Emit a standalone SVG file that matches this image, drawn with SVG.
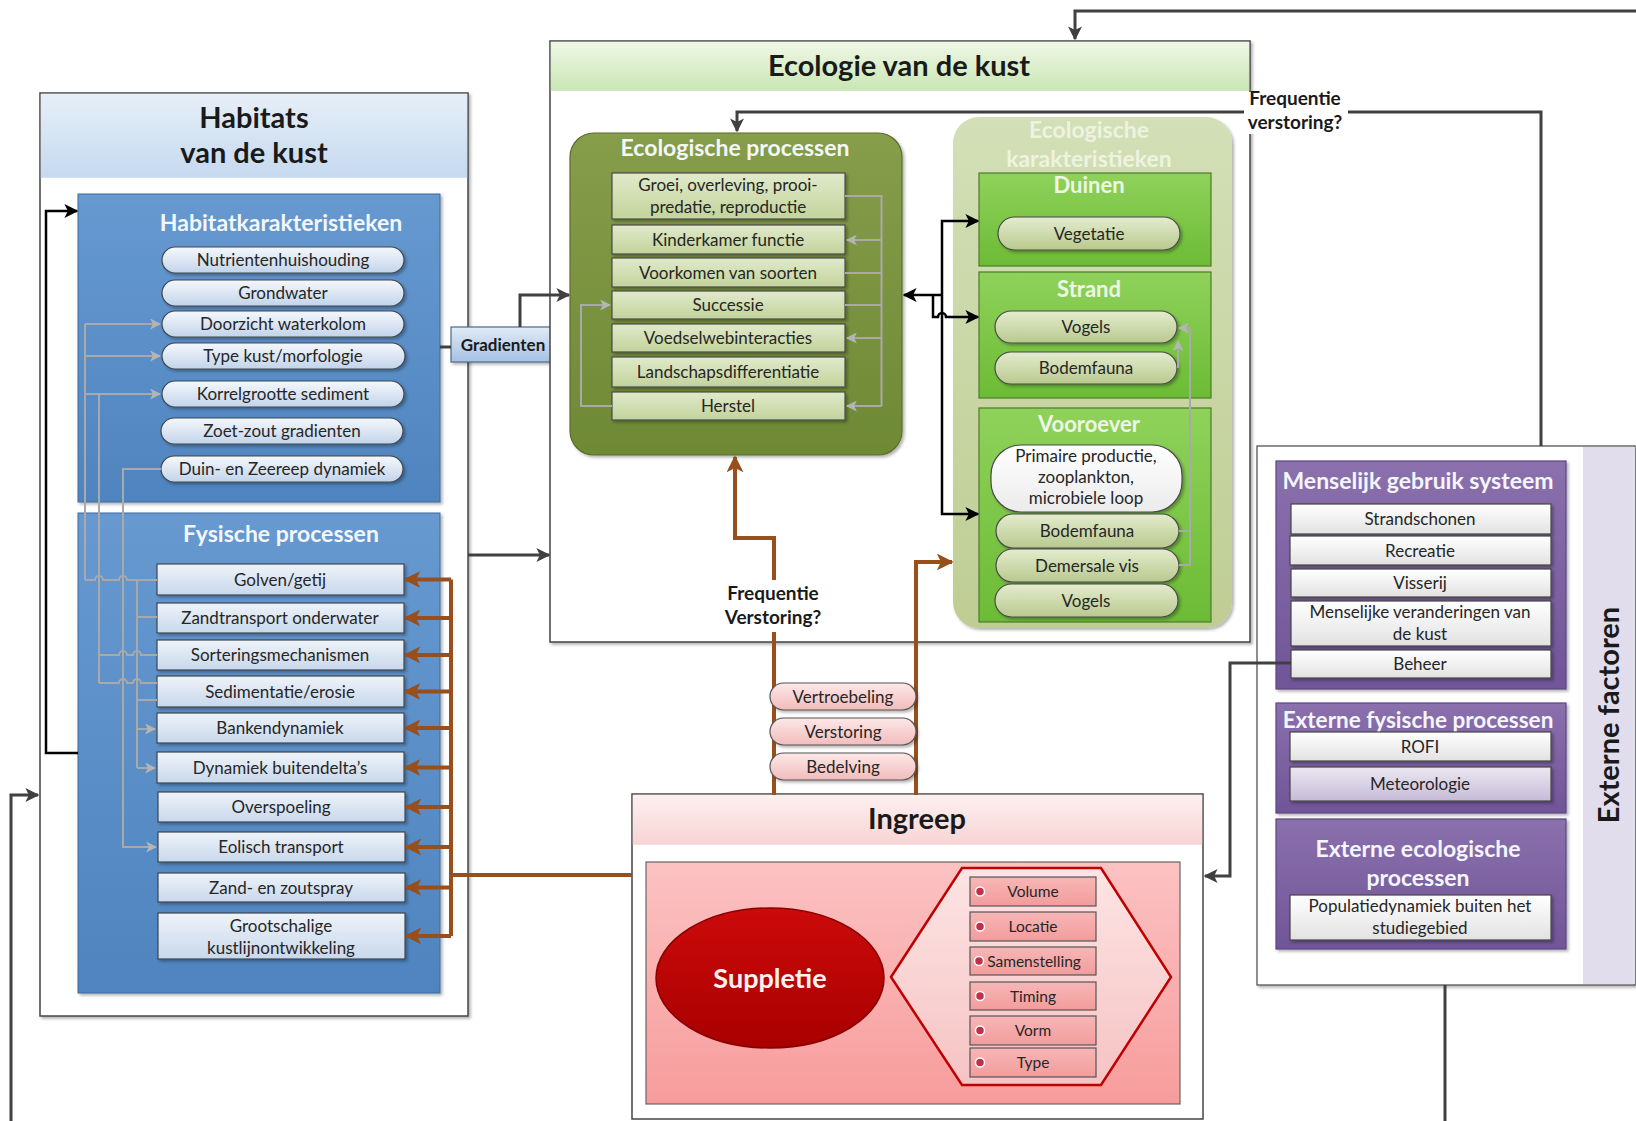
<svg xmlns="http://www.w3.org/2000/svg" width="1636" height="1121" viewBox="0 0 1636 1121">
<defs>
<style>
text{font-family:Lato,'Liberation Sans',sans-serif}
.it{font-size:17px;fill:#262626;text-anchor:middle}
.ie{font-size:17px;fill:#262626;text-anchor:middle}
.sm{font-size:15.5px;fill:#262626;text-anchor:middle}
.hd{font-weight:bold;text-anchor:middle;fill:#1a1a1a}
.wt{font-weight:bold;text-anchor:middle;fill:#f3f6fa}
.pill{fill:url(#gPill);stroke:#3c4650;stroke-width:1.2}
.fys{fill:url(#gFys);stroke:#3c4650;stroke-width:1.2}
.oi{fill:url(#gOliveItem);stroke:#4a4a4a;stroke-width:1.2}
.gp{fill:url(#gGreenPill);stroke:#4a4a4a;stroke-width:1.2}
.gb{fill:url(#gGreen);stroke:#4d7a2a;stroke-width:1.2}
.pu{fill:url(#gPurple);stroke:#5b4680;stroke-width:1.2}
.wi{fill:url(#gWhiteItem);stroke:#444;stroke-width:1.2}
.pi{fill:url(#gPinkItem);stroke:#555;stroke-width:1.2}
.pp{fill:url(#gPinkPill);stroke:#555;stroke-width:1.2}
.dk{fill:none;stroke:#404040;stroke-width:3}
.bk{fill:none;stroke:#000;stroke-width:2.5}
.br{fill:none;stroke:#984f1c;stroke-width:4}
.gr{fill:none;stroke:#a9a9a9;stroke-width:2}
.lbl{font-weight:bold;font-size:19px;fill:#1a1a1a;text-anchor:middle}
</style>
<filter id="sh" x="-10%" y="-10%" width="130%" height="130%"><feDropShadow dx="2" dy="2" stdDeviation="1.5" flood-color="#000" flood-opacity="0.3"/></filter>
<linearGradient id="gHabHead" x1="0" y1="0" x2="0" y2="1"><stop offset="0" stop-color="#e6eff8"/><stop offset="1" stop-color="#c6d9ef"/></linearGradient>
<linearGradient id="gBlue" x1="0" y1="0" x2="0" y2="1"><stop offset="0" stop-color="#6799d0"/><stop offset="1" stop-color="#4f84bf"/></linearGradient>
<linearGradient id="gPill" x1="0" y1="0" x2="0" y2="1"><stop offset="0" stop-color="#f5f8fc"/><stop offset="1" stop-color="#c2d4ea"/></linearGradient>
<linearGradient id="gFys" x1="0" y1="0" x2="0" y2="1"><stop offset="0" stop-color="#eef3f9"/><stop offset="1" stop-color="#c8d8ec"/></linearGradient>
<linearGradient id="gGrad" x1="0" y1="0" x2="0" y2="1"><stop offset="0" stop-color="#e0ebf7"/><stop offset="1" stop-color="#a6c1e3"/></linearGradient>
<linearGradient id="gEcoHead" x1="0" y1="0" x2="0" y2="1"><stop offset="0" stop-color="#eff8e7"/><stop offset="1" stop-color="#c9e6b3"/></linearGradient>
<linearGradient id="gOlive" x1="0" y1="0" x2="0" y2="1"><stop offset="0" stop-color="#869d4b"/><stop offset="1" stop-color="#6e8935"/></linearGradient>
<linearGradient id="gOliveItem" x1="0" y1="0" x2="0" y2="1"><stop offset="0" stop-color="#e1eacb"/><stop offset="1" stop-color="#c2d39b"/></linearGradient>
<linearGradient id="gEcoKar" x1="0" y1="0" x2="0" y2="1"><stop offset="0" stop-color="#d3dfb6"/><stop offset="1" stop-color="#bfcd94"/></linearGradient>
<linearGradient id="gGreen" x1="0" y1="0" x2="0" y2="1"><stop offset="0" stop-color="#8fd25b"/><stop offset="1" stop-color="#6cbb35"/></linearGradient>
<linearGradient id="gGreenPill" x1="0" y1="0" x2="0" y2="1"><stop offset="0" stop-color="#e4ecce"/><stop offset="1" stop-color="#b8c98e"/></linearGradient>
<linearGradient id="gWhitePill" x1="0" y1="0" x2="0" y2="1"><stop offset="0" stop-color="#ffffff"/><stop offset="1" stop-color="#ebebeb"/></linearGradient>
<linearGradient id="gIngHead" x1="0" y1="0" x2="0" y2="1"><stop offset="0" stop-color="#fdf0f0"/><stop offset="1" stop-color="#f8d4d4"/></linearGradient>
<linearGradient id="gPink" x1="0" y1="0" x2="0" y2="1"><stop offset="0" stop-color="#fcc2c2"/><stop offset="1" stop-color="#f79c9c"/></linearGradient>
<linearGradient id="gRed" x1="0" y1="0" x2="0" y2="1"><stop offset="0" stop-color="#cc0a0a"/><stop offset="1" stop-color="#a80000"/></linearGradient>
<linearGradient id="gHex" x1="0" y1="0" x2="0" y2="1"><stop offset="0" stop-color="#fde4e4"/><stop offset="1" stop-color="#f6c3c3"/></linearGradient>
<linearGradient id="gPinkItem" x1="0" y1="0" x2="0" y2="1"><stop offset="0" stop-color="#f8b6b6"/><stop offset="1" stop-color="#f29c9c"/></linearGradient>
<linearGradient id="gPinkPill" x1="0" y1="0" x2="0" y2="1"><stop offset="0" stop-color="#fde8e8"/><stop offset="1" stop-color="#f2bcbc"/></linearGradient>
<linearGradient id="gPurple" x1="0" y1="0" x2="0" y2="1"><stop offset="0" stop-color="#8b70ad"/><stop offset="1" stop-color="#705598"/></linearGradient>
<linearGradient id="gWhiteItem" x1="0" y1="0" x2="0" y2="1"><stop offset="0" stop-color="#ffffff"/><stop offset="1" stop-color="#e2e2e2"/></linearGradient>
<linearGradient id="gLav" x1="0" y1="0" x2="0" y2="1"><stop offset="0" stop-color="#ece7f2"/><stop offset="1" stop-color="#c6bbd8"/></linearGradient>
<marker id="aDk" markerUnits="userSpaceOnUse" markerWidth="14" markerHeight="14" viewBox="0 0 10 10" refX="9" refY="5" orient="auto"><path d="M0,0 L10,5 L0,10 L2.5,5 z" fill="#404040"/></marker>
<marker id="aBk" markerUnits="userSpaceOnUse" markerWidth="14" markerHeight="14" viewBox="0 0 10 10" refX="9" refY="5" orient="auto"><path d="M0,0 L10,5 L0,10 L2.5,5 z" fill="#000"/></marker>
<marker id="aBr" markerUnits="userSpaceOnUse" markerWidth="17" markerHeight="17" viewBox="0 0 10 10" refX="9" refY="5" orient="auto"><path d="M0,0 L10,5 L0,10 L2.5,5 z" fill="#984f1c"/></marker>
<marker id="aGr" markerUnits="userSpaceOnUse" markerWidth="11" markerHeight="11" viewBox="0 0 10 10" refX="9" refY="5" orient="auto"><path d="M0,0 L10,5 L0,10 L2.5,5 z" fill="#b5b5b5"/></marker>
</defs>

<rect width="1636" height="1121" fill="#fff"/>

<!-- Habitats van de kust -->
<g id="habitats">
<rect x="40" y="93" width="428" height="923" fill="#fff" stroke="#444" stroke-width="1.5" filter="url(#sh)"/>
<rect x="40.8" y="93.8" width="426.4" height="84" fill="url(#gHabHead)"/>
<text class="hd" x="254" y="128" font-size="29">Habitats</text>
<text class="hd" x="254" y="163" font-size="29">van de kust</text>
</g>
<g id="habitatkarakteristieken">
<rect x="78" y="194" width="362" height="308" fill="url(#gBlue)" stroke="#3d6a9c" filter="url(#sh)"/>
<text class="wt" x="281" y="231" font-size="23">Habitatkarakteristieken</text>
</g>
<g id="hk-nutrienten"><rect class="pill" x="162" y="247" width="242" height="26" rx="13" filter="url(#sh)"/><text class="it" x="283" y="266">Nutrientenhuishouding</text></g>
<g id="hk-grondwater"><rect class="pill" x="162" y="280" width="242" height="26" rx="13" filter="url(#sh)"/><text class="it" x="283" y="299">Grondwater</text></g>
<g id="hk-doorzicht"><rect class="pill" x="162" y="311" width="242" height="26" rx="13" filter="url(#sh)"/><text class="it" x="283" y="330">Doorzicht waterkolom</text></g>
<g id="hk-typekust"><rect class="pill" x="162" y="343" width="243" height="26" rx="13" filter="url(#sh)"/><text class="it" x="283" y="362">Type kust/morfologie</text></g>
<g id="hk-korrel"><rect class="pill" x="162" y="381" width="242" height="26" rx="13" filter="url(#sh)"/><text class="it" x="283" y="400">Korrelgrootte sediment</text></g>
<g id="hk-zoetzout"><rect class="pill" x="161" y="418" width="242" height="26" rx="13" filter="url(#sh)"/><text class="it" x="282" y="437">Zoet-zout gradienten</text></g>
<g id="hk-duin"><rect class="pill" x="161" y="456" width="242" height="26" rx="13" filter="url(#sh)"/><text class="it" x="282" y="475">Duin- en Zeereep dynamiek</text></g>

<g id="fysische">
<rect x="78" y="513" width="362" height="480" fill="url(#gBlue)" stroke="#3d6a9c" filter="url(#sh)"/>
<text class="wt" x="281" y="542" font-size="23">Fysische processen</text>
</g>
<g id="fp-golven"><rect class="fys" x="157" y="564" width="247" height="31" filter="url(#sh)"/><text class="it" x="280" y="585.5">Golven/getij</text></g>
<g id="fp-zandtransport"><rect class="fys" x="157" y="603" width="247" height="30" filter="url(#sh)"/><text class="it" x="280" y="624">Zandtransport onderwater</text></g>
<g id="fp-sortering"><rect class="fys" x="157" y="640" width="247" height="30" filter="url(#sh)"/><text class="it" x="280" y="661">Sorteringsmechanismen</text></g>
<g id="fp-sedimentatie"><rect class="fys" x="157" y="676" width="247" height="31" filter="url(#sh)"/><text class="it" x="280" y="697.5">Sedimentatie/erosie</text></g>
<g id="fp-banken"><rect class="fys" x="157" y="713" width="247" height="30" filter="url(#sh)"/><text class="it" x="280" y="734">Bankendynamiek</text></g>
<g id="fp-buitendelta"><rect class="fys" x="157" y="752" width="247" height="31" filter="url(#sh)"/><text class="it" x="280" y="773.5">Dynamiek buitendelta’s</text></g>
<g id="fp-overspoeling"><rect class="fys" x="158" y="792" width="247" height="30" filter="url(#sh)"/><text class="it" x="281" y="813">Overspoeling</text></g>
<g id="fp-eolisch"><rect class="fys" x="158" y="832" width="247" height="30" filter="url(#sh)"/><text class="it" x="281" y="853">Eolisch transport</text></g>
<g id="fp-zandzout"><rect class="fys" x="158" y="873" width="247" height="29" filter="url(#sh)"/><text class="it" x="281" y="893.5">Zand- en zoutspray</text></g>
<g id="fp-grootschalig"><rect class="fys" x="158" y="913" width="247" height="46" filter="url(#sh)"/><text class="it" x="281" y="932">Grootschalige</text><text class="it" x="281" y="954">kustlijnontwikkeling</text></g>

<g id="gradienten"><rect x="451" y="327" width="104" height="35" fill="url(#gGrad)" stroke="#4a6a8a" stroke-width="1.2" filter="url(#sh)"/><text x="503" y="350.5" font-size="17" font-weight="bold" fill="#1a1a1a" text-anchor="middle">Gradienten</text></g>

<!-- Ecologie van de kust -->
<g id="ecologie">
<rect x="550" y="41" width="700" height="601" fill="#fff" stroke="#444" stroke-width="1.5" filter="url(#sh)"/>
<rect x="550.8" y="41.8" width="698.4" height="49" fill="url(#gEcoHead)"/>
<text class="hd" x="899" y="76" font-size="29">Ecologie van de kust</text>
</g>
<g id="eco-processen">
<rect x="570" y="133" width="332" height="322" rx="24" fill="url(#gOlive)" stroke="#5a6e2c" stroke-width="1.2" filter="url(#sh)"/>
<text class="wt" x="735" y="156" font-size="23">Ecologische processen</text>
</g>
<g id="ep-groei"><rect class="oi" x="612" y="173" width="233" height="46" filter="url(#sh)"/><text class="ie" x="728" y="191">Groei, overleving, prooi-</text><text class="ie" x="728" y="213">predatie, reproductie</text></g>
<g id="ep-kinderkamer"><rect class="oi" x="612" y="225" width="233" height="29" filter="url(#sh)"/><text class="ie" x="728" y="245.5">Kinderkamer functie</text></g>
<g id="ep-voorkomen"><rect class="oi" x="612" y="258" width="233" height="29" filter="url(#sh)"/><text class="ie" x="728" y="278.5">Voorkomen van soorten</text></g>
<g id="ep-successie"><rect class="oi" x="612" y="291" width="233" height="28" filter="url(#sh)"/><text class="ie" x="728" y="311">Successie</text></g>
<g id="ep-voedselweb"><rect class="oi" x="612" y="324" width="233" height="28" filter="url(#sh)"/><text class="ie" x="728" y="344">Voedselwebinteracties</text></g>
<g id="ep-landschap"><rect class="oi" x="612" y="357" width="233" height="30" filter="url(#sh)"/><text class="ie" x="728" y="378">Landschapsdifferentiatie</text></g>
<g id="ep-herstel"><rect class="oi" x="612" y="392" width="233" height="28" filter="url(#sh)"/><text class="ie" x="728" y="412">Herstel</text></g>

<g id="eco-karakteristieken">
<rect x="953" y="117" width="279" height="511" rx="26" fill="url(#gEcoKar)" filter="url(#sh)"/>
<text x="1089" y="138" font-size="23" font-weight="bold" fill="#eef3e0" text-anchor="middle">Ecologische</text>
<text x="1089" y="167" font-size="23" font-weight="bold" fill="#eef3e0" text-anchor="middle">karakteristieken</text>
</g>
<g id="duinen"><rect class="gb" x="979" y="173" width="232" height="93"/><text x="1089" y="193" font-size="22" font-weight="bold" fill="#eef7e4" text-anchor="middle">Duinen</text></g>
<g id="duinen-vegetatie"><rect class="gp" x="998" y="217" width="182" height="33" rx="16.5" filter="url(#sh)"/><text class="ie" x="1089" y="239.5">Vegetatie</text></g>
<g id="strand"><rect class="gb" x="979" y="272" width="232" height="126"/><text x="1089" y="297" font-size="22" font-weight="bold" fill="#eef7e4" text-anchor="middle">Strand</text></g>
<g id="strand-vogels"><rect class="gp" x="995" y="311" width="182" height="32" rx="16" filter="url(#sh)"/><text class="ie" x="1086" y="333">Vogels</text></g>
<g id="strand-bodemfauna"><rect class="gp" x="995" y="352" width="182" height="32" rx="16" filter="url(#sh)"/><text class="ie" x="1086" y="374">Bodemfauna</text></g>
<g id="vooroever"><rect class="gb" x="979" y="408" width="232" height="214"/><text x="1089" y="432" font-size="22" font-weight="bold" fill="#eef7e4" text-anchor="middle">Vooroever</text></g>
<g id="vo-primaire"><rect x="991" y="445" width="191" height="67" rx="30" fill="url(#gWhitePill)" stroke="#4a4a4a" stroke-width="1.2" filter="url(#sh)"/><text class="ie" x="1086" y="462">Primaire productie,</text><text class="ie" x="1086" y="483">zooplankton,</text><text class="ie" x="1086" y="504">microbiele loop</text></g>
<g id="vo-bodemfauna"><rect class="gp" x="996" y="514" width="183" height="34" rx="17" filter="url(#sh)"/><text class="ie" x="1087" y="537">Bodemfauna</text></g>
<g id="vo-demersale"><rect class="gp" x="996" y="549" width="183" height="33" rx="16.5" filter="url(#sh)"/><text class="ie" x="1087" y="571.5">Demersale vis</text></g>
<g id="vo-vogels"><rect class="gp" x="995" y="584" width="183" height="33" rx="16.5" filter="url(#sh)"/><text class="ie" x="1086" y="606.5">Vogels</text></g>

<!-- Ingreep -->
<g id="ingreep">
<rect x="632" y="794" width="571" height="325" fill="#fff" stroke="#444" stroke-width="1.5"/>
<rect x="632.8" y="794.8" width="569.4" height="50" fill="url(#gIngHead)"/>
<text class="hd" x="917" y="829" font-size="29">Ingreep</text>
<rect x="646" y="862" width="534" height="242" fill="url(#gPink)" stroke="#666" stroke-width="1.2"/>
</g>
<g id="suppletie"><ellipse cx="770" cy="978" rx="114" ry="70" fill="url(#gRed)" stroke="#8a0000" stroke-width="1.5"/><text x="770" y="988" font-size="27" font-weight="bold" fill="#fff2f2" text-anchor="middle">Suppletie</text></g>
<g id="suppletie-kenmerken">
<polygon points="891,977 962,868 1101,868 1171,977 1101,1085 962,1085" fill="url(#gHex)" stroke="#c00000" stroke-width="2.5"/>
</g>
<g id="sk-volume"><rect class="pi" x="970" y="877" width="126" height="29"/><circle cx="980" cy="891.5" r="4.5" fill="#c0304a" stroke="#fff" stroke-width="1.5"/><text class="sm" x="1033" y="897">Volume</text></g>
<g id="sk-locatie"><rect class="pi" x="970" y="912" width="126" height="29"/><circle cx="980" cy="926.5" r="4.5" fill="#c0304a" stroke="#fff" stroke-width="1.5"/><text class="sm" x="1033" y="932">Locatie</text></g>
<g id="sk-samenstelling"><rect class="pi" x="970" y="947" width="126" height="28"/><circle cx="979" cy="961" r="4.5" fill="#c0304a" stroke="#fff" stroke-width="1.5"/><text class="sm" x="1034" y="966.5">Samenstelling</text></g>
<g id="sk-timing"><rect class="pi" x="970" y="982" width="126" height="28"/><circle cx="980" cy="996" r="4.5" fill="#c0304a" stroke="#fff" stroke-width="1.5"/><text class="sm" x="1033" y="1001.5">Timing</text></g>
<g id="sk-vorm"><rect class="pi" x="970" y="1016" width="126" height="29"/><circle cx="980" cy="1030.5" r="4.5" fill="#c0304a" stroke="#fff" stroke-width="1.5"/><text class="sm" x="1033" y="1036">Vorm</text></g>
<g id="sk-type"><rect class="pi" x="970" y="1048" width="126" height="29"/><circle cx="980" cy="1062.5" r="4.5" fill="#c0304a" stroke="#fff" stroke-width="1.5"/><text class="sm" x="1033" y="1068">Type</text></g>

<!-- Externe factoren -->
<g id="externe-factoren">
<rect x="1257" y="446" width="378" height="539" fill="#fff" stroke="#555" stroke-width="1.3" filter="url(#sh)"/>
<rect x="1583" y="447" width="52" height="537" fill="#e1dded"/>
<text transform="translate(1619,715) rotate(-90)" font-size="29" font-weight="bold" fill="#1a1a1a" text-anchor="middle">Externe factoren</text>
</g>
<g id="menselijk-gebruik"><rect class="pu" x="1276" y="461" width="290" height="228" filter="url(#sh)"/><text class="wt" x="1418" y="489" font-size="23">Menselijk gebruik systeem</text></g>
<g id="mg-strandschonen"><rect class="wi" x="1291" y="504" width="260" height="30" filter="url(#sh)"/><text class="it" x="1420" y="525">Strandschonen</text></g>
<g id="mg-recreatie"><rect class="wi" x="1290" y="536" width="261" height="29" filter="url(#sh)"/><text class="it" x="1420" y="556.5">Recreatie</text></g>
<g id="mg-visserij"><rect class="wi" x="1291" y="569" width="260" height="28" filter="url(#sh)"/><text class="it" x="1420" y="589">Visserij</text></g>
<g id="mg-veranderingen"><rect class="wi" x="1291" y="601" width="260" height="45" filter="url(#sh)"/><text class="it" x="1420" y="618">Menselijke veranderingen van</text><text class="it" x="1420" y="640">de kust</text></g>
<g id="mg-beheer"><rect class="wi" x="1291" y="650" width="260" height="28" filter="url(#sh)"/><text class="it" x="1420" y="670">Beheer</text></g>
<g id="externe-fysische"><rect class="pu" x="1276" y="703" width="290" height="110" filter="url(#sh)"/><text class="wt" x="1418" y="728" font-size="22.5">Externe fysische processen</text></g>
<g id="ef-rofi"><rect class="wi" x="1290" y="732" width="261" height="29" filter="url(#sh)"/><text class="it" x="1420" y="752.5">ROFI</text></g>
<g id="ef-meteorologie"><rect x="1290" y="767" width="261" height="34" fill="url(#gLav)" stroke="#444" stroke-width="1.2" filter="url(#sh)"/><text class="it" x="1420" y="790">Meteorologie</text></g>
<g id="externe-ecologische"><rect class="pu" x="1276" y="819" width="290" height="130" filter="url(#sh)"/><text class="wt" x="1418" y="857" font-size="23">Externe ecologische</text><text class="wt" x="1418" y="886" font-size="23">processen</text></g>
<g id="ee-populatie"><rect class="wi" x="1290" y="895" width="261" height="45" filter="url(#sh)"/><text class="it" x="1420" y="912">Populatiedynamiek buiten het</text><text class="it" x="1420" y="934">studiegebied</text></g>

<!-- Connectors -->
<g id="connectors">
<path class="dk" d="M1636,11 L1075,11 L1075,39" marker-end="url(#aDk)"/>
<path class="dk" d="M1541,446 L1541,112 L737,112 L737,131" marker-end="url(#aDk)"/>
<path class="dk" d="M11,1121 L11,795 L38,795" marker-end="url(#aDk)"/>
<path class="dk" d="M468,555 L549,555" marker-end="url(#aDk)"/>
<path class="dk" d="M440,347 L451,347"/>
<path class="dk" d="M520,327 L520,295 L569,295" marker-end="url(#aDk)"/>
<path class="dk" d="M1445,985 L1445,1121"/>
<path class="dk" d="M1291,663 L1230,663 L1230,876 L1205,876" stroke-width="2.5" marker-end="url(#aDk)"/>
<path class="bk" d="M78,753 L46,753 L46,211 L77,211" marker-end="url(#aBk)"/>
<path class="bk" d="M942,295 L904,295" marker-end="url(#aBk)"/>
<path class="bk" d="M942,295 L942,221 L978,221" marker-end="url(#aBk)"/>
<path class="bk" d="M942,295 L942,514 L978,514" marker-end="url(#aBk)"/>
<path class="bk" d="M933,295 L933,317 L938,317 A4,4 0 0 1 946,317 L978,317" marker-end="url(#aBk)"/>
<path class="br" d="M774,795 L774,632"/>
<path class="br" d="M774,580 L774,538 L735,538 L735,457" marker-end="url(#aBr)"/>
<path class="br" d="M916,795 L916,562 L952,562" marker-end="url(#aBr)"/>
<path class="br" d="M632,875 L451,875"/>
<path class="br" d="M451,579.5 L451,936"/>
<path class="br" d="M451,579.5 L405,579.5" marker-end="url(#aBr)"/>
<path class="br" d="M451,618 L405,618" marker-end="url(#aBr)"/>
<path class="br" d="M451,655 L405,655" marker-end="url(#aBr)"/>
<path class="br" d="M451,691.5 L405,691.5" marker-end="url(#aBr)"/>
<path class="br" d="M451,728 L405,728" marker-end="url(#aBr)"/>
<path class="br" d="M451,767.5 L405,767.5" marker-end="url(#aBr)"/>
<path class="br" d="M451,807 L406,807" marker-end="url(#aBr)"/>
<path class="br" d="M451,847 L406,847" marker-end="url(#aBr)"/>
<path class="br" d="M451,887.5 L406,887.5" marker-end="url(#aBr)"/>
<path class="br" d="M451,936 L406,936" marker-end="url(#aBr)"/>
<path class="gr" d="M85,324 L85,580"/>
<path class="gr" d="M85,324 L160,324" marker-end="url(#aGr)"/>
<path class="gr" d="M85,356 L160,356" marker-end="url(#aGr)"/>
<path class="gr" d="M85,394 L160,394" marker-end="url(#aGr)"/>
<path class="gr" d="M99,394 L99,683"/>
<path class="gr" d="M161,469 L123,469 L123,847 L156,847" marker-end="url(#aGr)"/>
<path class="gr" d="M85,580 L95,580 A4,4 0 0 1 103,580 L119,580 A4,4 0 0 1 127,580 L157,580"/>
<path class="gr" d="M137,580 L137,768"/>
<path class="gr" d="M137,617 L157,617"/>
<path class="gr" d="M99,655 L119,655 A4,4 0 0 1 127,655 L133,655 A4,4 0 0 1 141,655 L157,655"/>
<path class="gr" d="M99,683 L119,683 A4,4 0 0 1 127,683 L133,683 A4,4 0 0 1 141,683 L157,683"/>
<path class="gr" d="M137,700 L157,700"/>
<path class="gr" d="M137,729 L155,729" marker-end="url(#aGr)"/>
<path class="gr" d="M137,768 L155,768" marker-end="url(#aGr)"/>
<path class="gr" d="M845,196 L881.5,196 L881.5,406"/>
<path class="gr" d="M845,273 L881.5,273"/>
<path class="gr" d="M845,305 L881.5,305"/>
<path class="gr" d="M881.5,240 L847,240" marker-end="url(#aGr)"/>
<path class="gr" d="M881.5,338 L847,338" marker-end="url(#aGr)"/>
<path class="gr" d="M881.5,406 L847,406" marker-end="url(#aGr)"/>
<path class="gr" d="M612,406 L581,406 L581,305 L610,305" marker-end="url(#aGr)"/>
<path class="gr" stroke="#a8acc0" d="M1179,565 L1190,565 L1190,328 L1179,328" marker-end="url(#aGr)"/>
<path class="gr" stroke="#a8acc0" d="M1179,531 L1190,531"/>
<path class="gr" stroke="#a8acc0" d="M1178,368 L1178,341" marker-end="url(#aGr)"/>
</g>

<g id="label-frequentie-top">
<rect x="1244" y="92" width="104" height="42" fill="#fff"/>
<text class="lbl" x="1295" y="105">Frequentie</text>
<text class="lbl" x="1295" y="129">verstoring?</text>
</g>
<g id="label-frequentie-mid">
<text class="lbl" x="773" y="600">Frequentie</text>
<text class="lbl" x="773" y="624">Verstoring?</text>
</g>
<g id="effect-vertroebeling"><rect class="pp" x="770" y="683" width="146" height="27" rx="13.5" filter="url(#sh)"/><text class="ie" x="843" y="702.5">Vertroebeling</text></g>
<g id="effect-verstoring"><rect class="pp" x="770" y="718" width="146" height="27" rx="13.5" filter="url(#sh)"/><text class="ie" x="843" y="737.5">Verstoring</text></g>
<g id="effect-bedelving"><rect class="pp" x="770" y="753" width="146" height="27" rx="13.5" filter="url(#sh)"/><text class="ie" x="843" y="772.5">Bedelving</text></g>
</svg>
